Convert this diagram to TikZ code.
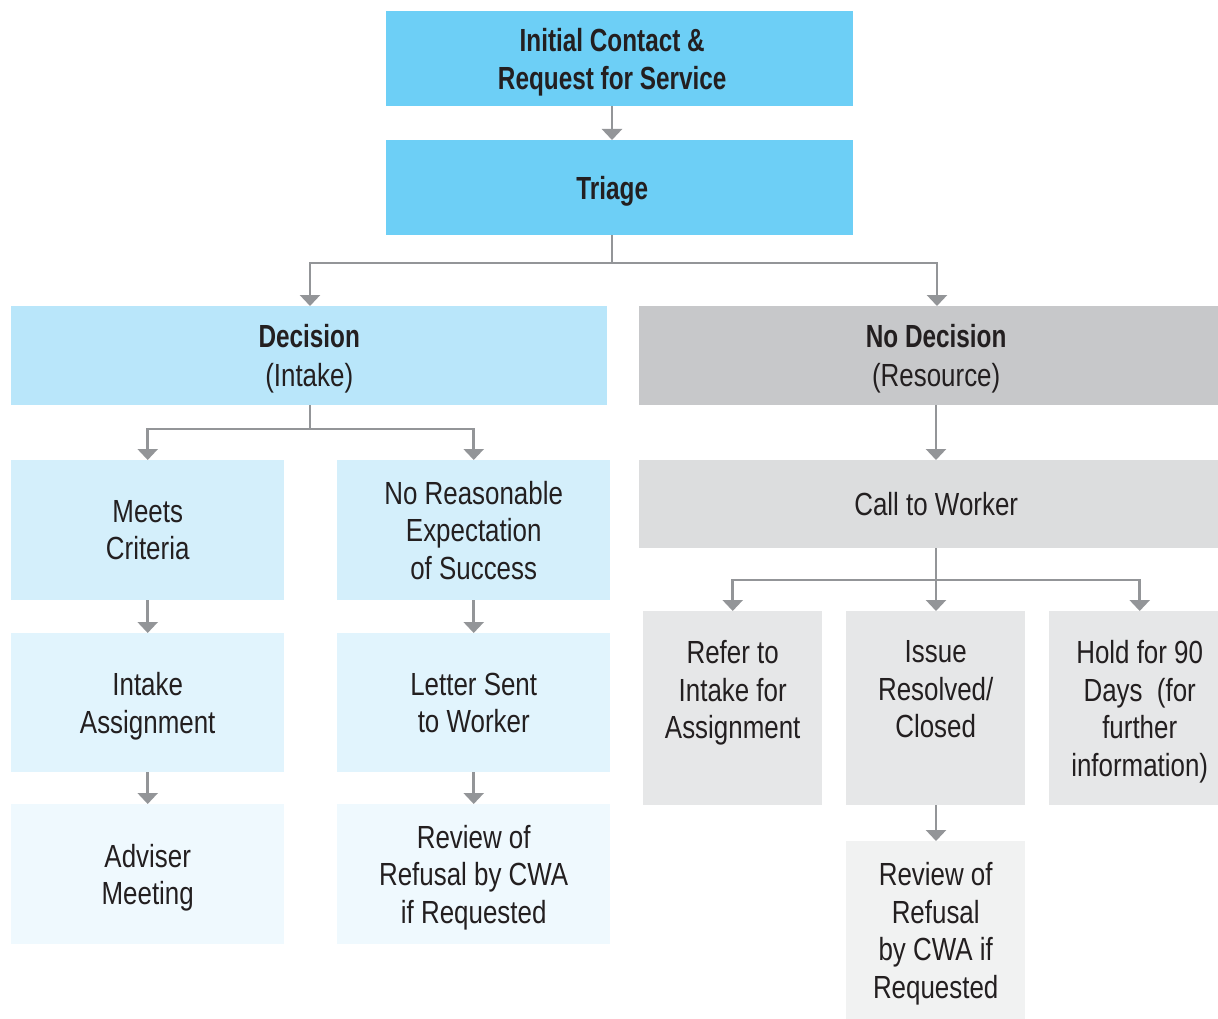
\documentclass[tikz,border=0pt]{standalone}
\usepackage{fontspec}
\usetikzlibrary{arrows.meta}
\newfontfamily\regf{Liberation Sans}[FakeStretch=0.81]
\newfontfamily\bldf{Liberation Sans}[FakeStretch=0.76]
\definecolor{txt}{HTML}{231F20}
\definecolor{lnc}{HTML}{939598}
\definecolor{bA}{HTML}{6DCFF6}
\definecolor{bB}{HTML}{B9E6FA}
\definecolor{bC}{HTML}{D4EFFB}
\definecolor{bD}{HTML}{E1F4FD}
\definecolor{bE}{HTML}{EFF9FE}
\definecolor{gA}{HTML}{C7C8CA}
\definecolor{gB}{HTML}{DCDDDE}
\definecolor{gC}{HTML}{E6E7E8}
\definecolor{gD}{HTML}{F1F2F2}
\newcommand{\shl}{\hspace*{-15pt}}
\begin{document}
\begin{tikzpicture}[x=1pt,y=-1pt,
  box/.style={inner sep=0pt, anchor=north west, align=center, text=txt, text depth=0pt,
    font={\regf\fontsize{32}{37.5}\selectfont}},
  ln/.style={draw=lnc, line width=2.6pt},
  arr/.style={ln, -{Triangle[width=20pt,length=11pt]}}]
\useasboundingbox (0,0) rectangle (1218,1019);
\clip (0,0) rectangle (1218,1019);
\fill[white] (0,0) rectangle (1218,1019);
% top
\node[box, fill=bA, minimum width=467pt, minimum height=95pt] (init) at (386,11)
  {\bldf\bfseries\shl Initial Contact \&\\\bldf\bfseries\shl Request for Service};
\node[box, fill=bA, minimum width=467pt, minimum height=95pt] (triage) at (386,140)
  {\bldf\bfseries\shl Triage};
% second level
\node[box, fill=bB, minimum width=596pt, minimum height=99pt,
  font={\regf\fontsize{32}{39}\selectfont}] (dec) at (11,306)
  {\bldf\bfseries Decision\\(Intake)};
\node[box, fill=gA, minimum width=594pt, minimum height=99pt,
  font={\regf\fontsize{32}{39}\selectfont}] (nodec) at (639,306)
  {\bldf\bfseries No Decision\\(Resource)};
% left branch
\node[box, fill=bC, minimum width=273pt, minimum height=140pt] (meets) at (11,460)
  {Meets\\Criteria};
\node[box, fill=bC, minimum width=273pt, minimum height=140pt] (noreas) at (337,460)
  {No Reasonable\\Expectation\\of Success};
\node[box, fill=bD, minimum width=273pt, minimum height=139pt] (intake) at (11,633)
  {Intake\\Assignment};
\node[box, fill=bD, minimum width=273pt, minimum height=139pt] (letter) at (337,633)
  {Letter Sent\\to Worker};
\node[box, fill=bE, minimum width=273pt, minimum height=140pt] (adviser) at (11,804)
  {Adviser\\Meeting};
\node[box, fill=bE, minimum width=273pt, minimum height=140pt] (revL) at (337,804)
  {Review of\\Refusal by CWA\\if Requested};
% right branch
\node[box, fill=gB, minimum width=594pt, minimum height=88pt] (call) at (639,460)
  {Call to Worker};
\node[box, fill=gC, minimum width=179pt, minimum height=194pt] (refer) at (643,611)
  {Refer to\\Intake for\\Assignment\\\mbox{}};
\node[box, fill=gC, minimum width=179pt, minimum height=194pt] (issue) at (846,611)
  {Issue\\Resolved/\\Closed\\\mbox{}};
\node[box, fill=gC, minimum width=181pt, minimum height=194pt] (hold) at (1049,611)
  {Hold for 90\\Days\ \ (for\\further\\information)};
\node[box, fill=gD, minimum width=179pt, minimum height=178pt] (revR) at (846,841)
  {Review of\\Refusal\\by CWA if\\Requested};
% junction coordinates
\coordinate (t1) at (612,263);
\coordinate (cL) at (310,263);
\coordinate (cR) at (937,263);
\coordinate (d1) at (310,429);
\coordinate (k1) at (936,580);
% connectors
\draw[arr] (init.south -| t1) -- (triage.north -| t1);
\draw[ln] (triage.south -| t1) -- (t1);
\draw[arr] (t1) -| (dec.north -| cL);
\draw[arr] (t1) -| (nodec.north -| cR);
\draw[ln] (dec.south -| d1) -- (d1);
\draw[arr] (d1) -| (meets.north);
\draw[arr] (d1) -| (noreas.north);
\draw[arr] (meets.south) -- (intake.north);
\draw[arr] (intake.south) -- (adviser.north);
\draw[arr] (noreas.south) -- (letter.north);
\draw[arr] (letter.south) -- (revL.north);
\draw[arr] (nodec.south -| k1) -- (call.north -| k1);
\draw[ln] (call.south -| k1) -- (k1);
\draw[arr] (k1) -| (refer.north);
\draw[arr] (k1) -- (issue.north -| k1);
\draw[arr] (k1) -| (hold.north);
\draw[arr] (issue.south -| k1) -- (revR.north -| k1);
\end{tikzpicture}
\end{document}
